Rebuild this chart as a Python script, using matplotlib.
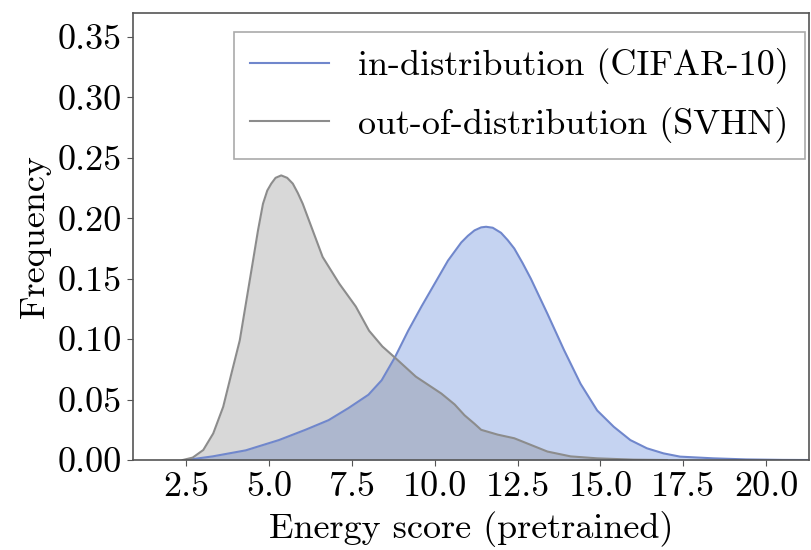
import numpy as np
import matplotlib
matplotlib.use("Agg")
import matplotlib.pyplot as plt

plt.rcParams['font.family'] = 'serif'
plt.rcParams['font.serif'] = ['cmr10']
plt.rcParams['mathtext.fontset'] = 'cm'
plt.rcParams['axes.unicode_minus'] = False
plt.rcParams['axes.formatter.use_mathtext'] = True

# energy score density curves
id_x = [2.5, 3.3, 4.3, 5.3, 6.1, 6.8, 7.4, 8.0, 8.4, 8.8, 9.2, 9.6, 10.0, 10.4, 10.8,
        11.0, 11.2, 11.4, 11.55, 11.75, 12.0, 12.2, 12.4, 12.65, 12.9, 13.4, 13.9, 14.4,
        14.9, 15.4, 15.9, 16.4, 16.9, 17.4, 18.4, 19.4, 20.5, 21.3]
id_y = [0.0, 0.003, 0.008, 0.0165, 0.025, 0.033, 0.043, 0.054, 0.066, 0.085, 0.107,
        0.127, 0.146, 0.165, 0.180, 0.1855, 0.190, 0.1925, 0.193, 0.1922, 0.188, 0.182,
        0.175, 0.163, 0.150, 0.121, 0.091, 0.063, 0.041, 0.0275, 0.0165, 0.0097, 0.0055,
        0.0028, 0.0014, 0.0005, 0.0001, 0.0]

ood_x = [2.4, 2.7, 3.02, 3.32, 3.62, 3.87, 4.12, 4.32, 4.52, 4.67, 4.82, 4.95, 5.07,
         5.2, 5.37, 5.55, 5.72, 5.87, 6.02, 6.32, 6.62, 7.12, 7.62, 8.02, 8.42, 8.83,
         9.43, 10.2, 10.6, 10.9, 11.2, 11.4, 11.9, 12.4, 12.9, 13.4, 14.1, 14.9, 16.0, 17.0]
ood_y = [0.0, 0.002, 0.0083, 0.022, 0.044, 0.0717, 0.099, 0.132, 0.165, 0.190, 0.212,
         0.223, 0.2287, 0.2335, 0.2355, 0.2335, 0.2287, 0.221, 0.212, 0.190, 0.168,
         0.146, 0.127, 0.107, 0.094, 0.084, 0.069, 0.055, 0.046, 0.037, 0.030, 0.025,
         0.021, 0.018, 0.0125, 0.007, 0.003, 0.0014, 0.0003, 0.0]

labels = ['in-distribution (CIFAR-10)', 'out-of-distribution (SVHN)']

fig = plt.figure(figsize=(8.11, 5.5), dpi=100)
ax = fig.add_axes([0.164, 0.1636, 0.834, 0.813])

ax.fill_between(id_x, id_y, color='#1b53cb', alpha=0.25, linewidth=0)
ax.plot(id_x, id_y, color='#7087cc', linewidth=1.5, label=labels[0])
ax.fill_between(ood_x, ood_y, color='#676767', alpha=0.25, linewidth=0)
ax.plot(ood_x, ood_y, color='#8c8c8c', linewidth=1.5, label=labels[1])

ax.set_xlim(0.9, 21.3)
ax.set_ylim(0, 0.37)
ax.set_xticks([2.5, 5.0, 7.5, 10.0, 12.5, 15.0, 17.5, 20.0])
ax.set_xticklabels(['2.5', '5.0', '7.5', '10.0', '12.5', '15.0', '17.5', '20.0'])
ax.set_yticks([0.0, 0.05, 0.10, 0.15, 0.20, 0.25, 0.30, 0.35])
ax.set_yticklabels(['0.00', '0.05', '0.10', '0.15', '0.20', '0.25', '0.30', '0.35'])
ax.tick_params(labelsize=26, length=4, color='#555555', pad=4)
for s in ax.spines.values():
    s.set_color('#555555')
    s.set_linewidth(1.2)

ax.set_xlabel('Energy score (pretrained)', fontsize=26, labelpad=6)
ax.set_ylabel('Frequency', fontsize=26, labelpad=5)

leg = ax.legend(loc='upper right', fontsize=26, fancybox=False, framealpha=1,
                edgecolor='#aaaaaa', handlelength=2.2, borderpad=0.45,
                labelspacing=0.62, borderaxespad=0,
                bbox_to_anchor=(0.994, 0.957))
leg.get_frame().set_linewidth(1.2)

fig.savefig('out.png', dpi=100)
